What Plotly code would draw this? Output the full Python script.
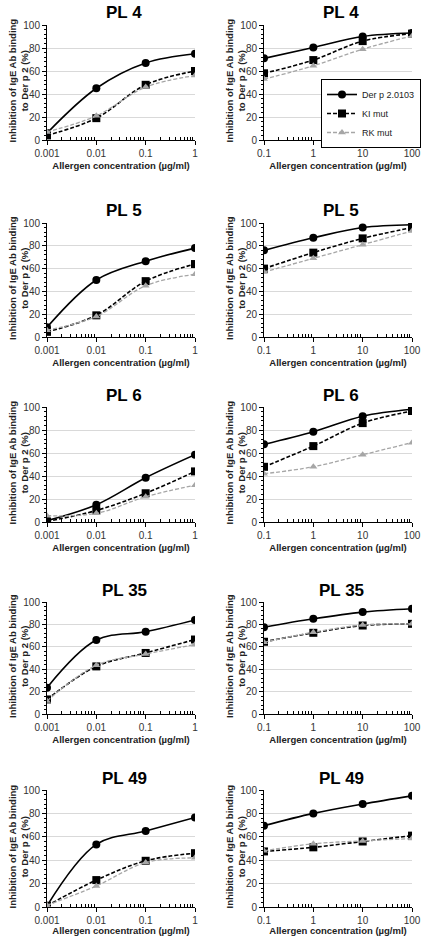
import plotly.graph_objects as go

W, H = 425, 936

panel_titles = ["PL 4", "PL 4", "PL 5", "PL 5", "PL 6", "PL 6", "PL 35", "PL 35", "PL 49", "PL 49"]
x_low = [0.001, 0.01, 0.1, 1]
x_high = [0.1, 1, 10, 100]
series_names = ["Der p 2.0103", "KI mut", "RK mut"]

# values per panel: [Der p 2.0103, KI mut, RK mut]
pl4_low = [[6, 45, 67, 75], [4, 19, 48, 60], [7, 21, 46, 56]]
pl4_high = [[71, 80.5, 90, 93], [58, 69.5, 86, 92.5], [53, 64.5, 79, 90.5]]
pl5_low = [[8.5, 50, 66.5, 78], [4.5, 19, 49, 64], [6, 18, 45, 55]]
pl5_high = [[76, 87, 96, 98.5], [60, 74, 86.5, 96], [57, 69, 81, 93]]
pl6_low = [[1.2, 15, 38.5, 58.5], [0.5, 10, 25, 44], [5.5, 7.5, 22, 32]]
pl6_high = [[67.5, 78.5, 92, 98], [48, 66, 86, 96.5], [42, 48, 58.5, 69]]
pl35_low = [[23.5, 66, 73.5, 84], [13, 42.5, 54.5, 66.5], [11.5, 43.5, 53.5, 62]]
pl35_high = [[77.5, 85, 91, 94], [64.5, 72.5, 79, 80.5], [64, 73, 79.5, 80.5]]
pl49_low = [[1, 53.5, 65, 76.5], [1, 23, 39.5, 46], [1.5, 18, 38, 42]]
pl49_high = [[69.5, 80, 88, 95], [47.5, 51, 56, 61], [48, 54, 56.5, 58.5]]

panels = [pl4_low, pl4_high, pl5_low, pl5_high, pl6_low, pl6_high,
          pl35_low, pl35_high, pl49_low, pl49_high]

y_ticks = [0, 20, 40, 60, 80, 100]
y_title = "<b>Inhibition of IgE Ab binding<br>to Der p 2 (%)</b>"
x_title = "<b>Allergen concentration (µg/ml)</b>"

FONT = "Liberation Sans, Arial, sans-serif"
styles = [
    dict(line=dict(color="black", width=1.6, dash="solid", shape="spline"),
         marker=dict(symbol="circle", size=8, color="black")),
    dict(line=dict(color="black", width=1.6, dash="4px,2px", shape="spline"),
         marker=dict(symbol="square", size=8, color="black")),
    dict(line=dict(color="#a6a6a6", width=1.3, dash="4px,2px", shape="spline"),
         marker=dict(symbol="triangle-up", size=7, color="#a6a6a6")),
]

# pixel geometry of plot areas
left_x = (47, 195)
right_x = (264, 412)
rows_px = [(25, 140), (223, 337), (407, 522), (602, 714), (790, 907)]

fig = go.Figure()
layout = dict(width=W, height=H, margin=dict(l=0, r=0, t=0, b=0),
              paper_bgcolor="white", plot_bgcolor="white",
              font=dict(family=FONT, color="#222"), annotations=[])

for i, data in enumerate(panels):
    r, c = divmod(i, 2)
    xs = x_low if c == 0 else x_high
    n = i + 1
    xa = "x" if n == 1 else f"x{n}"
    ya = "y" if n == 1 else f"y{n}"
    for s in range(3):
        fig.add_trace(go.Scatter(
            x=xs, y=data[s], mode="lines+markers", name=series_names[s],
            xaxis=xa, yaxis=ya, showlegend=(n == 2), **styles[s],
        ))
    px0, px1 = left_x if c == 0 else right_x
    top, bot = rows_px[r]
    xkey = "xaxis" if n == 1 else f"xaxis{n}"
    ykey = "yaxis" if n == 1 else f"yaxis{n}"
    layout[xkey] = dict(
        type="log", domain=[px0 / W, px1 / W], anchor=ya, automargin=False,
        range=[-3.0, 0.0] if c == 0 else [-1.0, 2.0],
        tickvals=xs, ticktext=[str(v) for v in xs],
        showgrid=False, zeroline=False,
        showline=True, linecolor="black", linewidth=1,
        ticks="outside", ticklen=4, tickcolor="black",
        tickfont=dict(size=10, color="#333"),
        minor=dict(ticks="inside", ticklen=3, tickcolor="black",
                   tickvals=[m * 10 ** e for e in ([-3, -2, -1] if c == 0 else [-1, 0, 1])
                             for m in range(2, 10)]),
        title=dict(text=x_title, font=dict(size=9.5, color="#222"), standoff=4),
    )
    layout[ykey] = dict(
        domain=[1 - bot / H, 1 - top / H], anchor=xa, automargin=False,
        range=[0, 100], tickvals=y_ticks,
        showgrid=True, gridcolor="#d9d9d9", gridwidth=1, zeroline=False,
        showline=True, linecolor="black", linewidth=1,
        ticks="outside", ticklen=4, tickcolor="black",
        tickfont=dict(size=10, color="#333"),
        minor=dict(ticks="outside", ticklen=2, tickcolor="black", dtick=4, showgrid=False),
    )
    layout["annotations"].append(dict(
        text=f"<b>{panel_titles[i]}</b>", xref="paper", yref="paper",
        x=(px0 + px1) / 2 / W + 0.008, y=1 - (top - 12) / H,
        showarrow=False, xanchor="center", yanchor="middle",
        font=dict(size=17, color="black", family=FONT),
    ))
    layout["annotations"].append(dict(
        text=y_title, xref="paper", yref="paper", textangle=-90,
        x=(px0 - 29) / W, y=1 - ((top + bot) / 2 - 2) / H,
        showarrow=False, xanchor="center", yanchor="middle",
        font=dict(size=9.5, color="#222", family=FONT),
    ))

layout["legend"] = dict(
    x=321 / W, y=1 - 79 / H, xanchor="left", yanchor="top",
    bgcolor="white", bordercolor="black", borderwidth=1,
    font=dict(size=9, color="#222"), itemwidth=30,
    tracegroupgap=0,
)

fig.update_layout(**layout)
fig.write_html("out.html", config={"displayModeBar": False},
               post_script="document.body.style.margin='0';document.body.style.overflow='hidden';")
